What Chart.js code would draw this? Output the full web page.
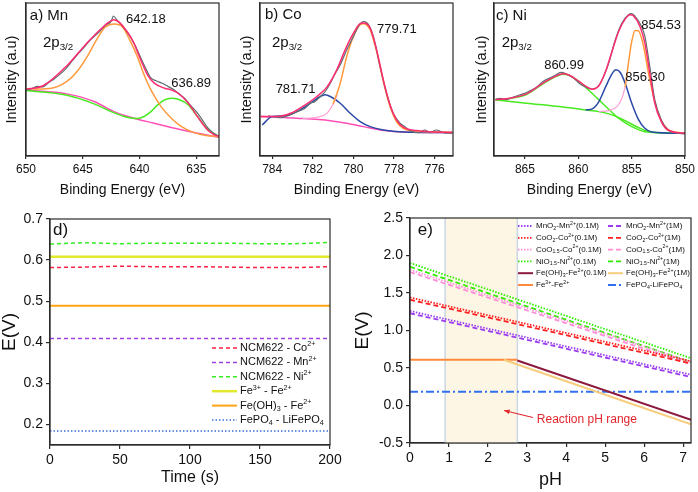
<!DOCTYPE html>
<html>
<head>
<meta charset="utf-8">
<script src="https://cdn.jsdelivr.net/npm/chart.js@4.4.1/dist/chart.umd.min.js"></script>
<style>
  body { margin: 0; background: #fff; }
  #fig { position: relative; width: 698px; height: 492px; overflow: hidden; }
  .box { position: absolute; }
</style>
</head>
<body>
<div id="fig">
  <div class="box" style="left:0;top:0;width:230px;height:200px"><canvas id="chartA"></canvas></div>
  <div class="box" style="left:230px;top:0;width:230px;height:200px"><canvas id="chartB"></canvas></div>
  <div class="box" style="left:460px;top:0;width:238px;height:200px"><canvas id="chartC"></canvas></div>
  <div class="box" style="left:0;top:200px;width:349px;height:292px"><canvas id="chartD"></canvas></div>
  <div class="box" style="left:349px;top:200px;width:349px;height:292px"><canvas id="chartE"></canvas></div>
</div>
<script>
const FONT = '"Liberation Sans", Arial, sans-serif';
const INK = '#2b2b2b';

// ---- a) Mn 2p3/2 ----
const mnTicks = [650, 645, 640, 635];
const mnRawE = [650, 649.5, 649, 648.5, 648, 647.5, 647, 646.5, 646, 645.5, 645, 644.5, 644, 643.5, 643, 642.5, 642.3, 642, 641.5, 641, 640.5, 640, 639.5, 639, 638.5, 638, 637.5, 637, 636.5, 636, 635.5, 635, 634.5, 634, 633.5, 633];
const mnRawI = [43.2, 44.0, 45.5, 45.2, 48.0, 50.5, 53.5, 57.0, 61.5, 66.0, 70.0, 74.5, 78.0, 81.5, 85.5, 88.0, 91.5, 89.0, 85.0, 80.0, 74.0, 66.0, 58.0, 51.0, 49.0, 47.5, 45.5, 43.5, 40.5, 37.5, 33.0, 29.0, 24.0, 18.5, 15.0, 13.0];
const mnFitE = [650, 648.5, 646.4, 644.9, 643.4, 642.25, 641.1, 640.5, 639.9, 639.3, 638.7, 637.8, 637.2, 636.6, 635.7, 634.9, 634, 633.4, 633];
const mnFitI = [43.7, 45.9, 59.0, 71.6, 83.0, 89.1, 81.4, 73.8, 62.9, 53.1, 47.6, 44.3, 43.2, 41.0, 34.5, 25.8, 17.0, 13.8, 12.9];
const mnPk1E = [650, 647.9, 646.4, 645.5, 644.6, 643.7, 643, 642.25, 641.5, 640.8, 640.2, 639.6, 639, 638.1, 637.2, 636.3, 635.2, 634, 633];
const mnPk1I = [43.7, 44.1, 48.7, 55.2, 65.1, 77.1, 84.3, 86.2, 84.3, 74.9, 65.1, 53.1, 43.2, 32.3, 24.7, 19.2, 15.3, 13.3, 12.7];
const mnPk2E = [650, 646.4, 644, 642.5, 641.1, 640.2, 639.6, 639, 638.4, 637.8, 637.2, 636.6, 635.7, 634.9, 634, 633];
const mnPk2I = [42.8, 39.7, 34.1, 29.0, 25.3, 24.5, 25.8, 29.0, 33.4, 36.7, 37.8, 37.1, 33.4, 25.8, 17.5, 12.7];
const mnBgE = [650, 646.4, 644, 642.25, 640.5, 638.7, 636.9, 635.2, 633];
const mnBgI = [43.2, 40.6, 35.6, 29.0, 24.7, 21.4, 18.1, 15.3, 12.2];

// ---- b) Co 2p3/2 ----
const coTicks = [784, 782, 780, 778, 776];
const coRawE = [784.2, 783.9, 783.6, 783.35, 783, 782.78, 782.4, 782.12, 781.9, 781.63, 781.4, 781.14, 780.9, 780.65, 780.33, 780, 779.76, 779.51, 779.35, 779.02, 778.69, 778.37, 778.04, 777.71, 777.47, 777.14, 776.73, 776.49, 776.24, 775.92, 775.59, 775.13];
const coRawI = [26.2, 25.6, 25.0, 25.8, 27.5, 29.0, 31.0, 34.5, 35.5, 38.9, 42.0, 47.6, 54.0, 59.6, 69.4, 78.2, 84.7, 87.8, 87.3, 78.2, 58.5, 41.0, 27.9, 21.4, 19.2, 15.9, 15.3, 17.0, 15.3, 17.0, 15.3, 14.8];
const coFitE = [784.57, 783.76, 783.1, 782.45, 781.8, 781.31, 780.82, 780.41, 780, 779.67, 779.51, 779.18, 778.86, 778.53, 778.2, 777.88, 777.55, 776.9, 776.24, 775.13];
const coFitI = [25.8, 25.8, 27.9, 32.8, 38.9, 45.0, 56.3, 69.4, 80.3, 86.5, 86.9, 83.6, 69.4, 49.8, 33.4, 23.6, 18.8, 16.6, 15.9, 15.3];
const coPk1E = [781.0, 780.65, 780.33, 780, 779.67, 779.51, 779.18, 778.86, 778.53, 778.2, 777.88, 777.55, 776.9, 775.13];
const coPk1I = [34.0, 47.6, 65.1, 78.2, 85.8, 86.5, 82.5, 68.3, 48.7, 32.3, 22.5, 18.1, 16.4, 15.5];
const coTailE = [782.5, 781.8, 781.31, 780.98, 780.8];
const coTailI = [24.5, 25.3, 27.9, 34.5, 40.0];
const coPk2E = [784.49, 784, 783.43, 782.78, 782.12, 781.63, 781.39, 781.14, 780.65, 780.16, 779.67, 779.18, 778.53, 777.55, 775.13];
const coPk2I = [20.3, 25.8, 26.2, 29.0, 34.5, 38.9, 40.0, 38.9, 34.5, 27.9, 22.5, 19.2, 17.0, 15.7, 15.3];
const coBgE = [784.57, 782.78, 781.14, 780.33, 779.51, 778.69, 777.88, 775.13];
const coBgI = [25.8, 24.7, 23.1, 21.4, 19.2, 17.0, 15.9, 15.3];

// ---- c) Ni 2p3/2 ----
const niTicks = [865, 860, 855, 850];
const niRawE = [867.77, 867.3, 867, 866.7, 866.39, 865.92, 865.46, 864.85, 864.38, 863.92, 863.31, 862.69, 862.07, 861.61, 861.15, 860.53, 859.92, 859.3, 858.69, 858.22, 857.76, 857.15, 856.53, 855.91, 855.3, 854.99, 854.68, 854.07, 853.76, 853.3, 852.83, 852.22, 851.6, 850.99, 850];
const niRawI = [37.1, 37.6, 37.1, 36.8, 37.8, 38.9, 40.0, 41.5, 43.2, 45.0, 48.7, 50.9, 53.1, 54.6, 53.7, 51.5, 47.6, 45.0, 43.7, 45.0, 49.8, 60.7, 76.0, 86.9, 92.4, 93.0, 91.3, 84.7, 78.2, 58.5, 36.7, 23.6, 17.0, 15.3, 14.4];
const niFitE = [867.77, 866.39, 864.85, 863.31, 862.07, 861.46, 860.84, 859.92, 859.15, 858.69, 858.07, 857.45, 856.84, 856.22, 855.61, 855.14, 854.84, 854.22, 853.76, 853.3, 852.83, 852.22, 851.6, 850];
const niFitI = [36.7, 37.8, 40.6, 47.6, 52.4, 53.7, 52.8, 48.7, 45.0, 43.7, 45.9, 55.2, 68.3, 81.4, 89.5, 92.4, 91.7, 84.7, 73.8, 54.1, 34.5, 22.5, 17.0, 14.8];
const niPk3E = [867.77, 866.39, 864.85, 863.31, 862.07, 861.46, 860.84, 859.92, 858.99, 858.07, 857.15, 856.22, 854.99, 853.76, 850];
const niPk3I = [36.7, 37.6, 40.2, 47.2, 52.0, 53.5, 52.6, 48.7, 42.8, 36.7, 30.6, 24.7, 19.2, 15.9, 14.8];
const niBgE = [867.77, 864.85, 861.77, 859.3, 858.07, 856.84, 855.61, 854.37, 853.14, 850];
const niBgI = [36.7, 34.5, 32.3, 30.1, 29.0, 26.9, 23.1, 18.6, 15.5, 14.8];
const niPk2E = [859.3, 858.69, 858.07, 857.45, 856.84, 856.47, 856.07, 855.61, 854.99, 854.37, 853.76, 853.14, 850];
const niPk2I = [30.1, 30.8, 35.6, 45.0, 53.7, 56.3, 54.6, 47.6, 34.5, 24.0, 18.1, 15.7, 14.8];
const niTailE = [858.07, 857.15, 856.38, 855.91, 855.61];
const niTailI = [29.0, 29.7, 32.3, 37.8, 45.0];
const niPk1E = [855.61, 855.3, 854.99, 854.68, 854.37, 853.91, 853.45, 852.83, 852.22, 851.6, 850.99, 850];
const niPk1I = [45.0, 60.7, 74.9, 82.1, 81.9, 72.7, 55.2, 35.6, 23.1, 17.5, 15.7, 14.8];

// ---- d) potential vs time ----
const dTime = [0, 25, 50, 75, 100, 125, 150, 175, 200];
const dCo = [0.582, 0.583, 0.585, 0.584, 0.584, 0.583, 0.582, 0.582, 0.584];
const dMn = [0.409, 0.409, 0.409, 0.409, 0.409, 0.409, 0.409, 0.409, 0.409];
const dNi = [0.639, 0.642, 0.640, 0.641, 0.641, 0.641, 0.640, 0.640, 0.643];
const dFe3 = [0.608, 0.608, 0.608, 0.608, 0.608, 0.608, 0.608, 0.608, 0.608];
const dFeOH = [0.489, 0.489, 0.489, 0.489, 0.489, 0.489, 0.489, 0.489, 0.489];
const dLfp = [0.184, 0.184, 0.184, 0.184, 0.184, 0.184, 0.184, 0.184, 0.184];
const dXTicks = [0, 50, 100, 150, 200];
const dYTicks = [0.2, 0.3, 0.4, 0.5, 0.6, 0.7];

// ---- e) E-pH diagram ----
const ePh = [0, 7.2];
const eMn01 = [1.26, 0.41], eMn1 = [1.23, 0.38];
const eCo201 = [1.44, 0.59], eCo21 = [1.41, 0.56];
const eCo1501 = [1.81, 0.58], eCo151 = [1.78, 0.55];
const eNi01 = [1.90, 0.63], eNi1 = [1.85, 0.58];
const eFeOH01Ph = [2.75, 7.2], eFeOH01 = [0.60, -0.19];
const eFeOH1Ph = [2.4, 7.2], eFeOH1 = [0.61, -0.25];
const eFe3Ph = [0, 2.75], eFe3 = [0.61, 0.61];
const eLfp = [0.185, 0.185];
const eXTicks = [0, 1, 2, 3, 4, 5, 6, 7];
const eYTicks = [-0.5, 0, 0.5, 1.0, 1.5, 2.0, 2.5];

// text with _{sub} and ^{sup}
function richParts(s) {
  const out = [], re = /([_^])\{([^}]*)\}/g;
  let last = 0, m;
  while ((m = re.exec(s))) {
    if (m.index > last) out.push({ t: s.slice(last, m.index), mode: 0 });
    out.push({ t: m[2], mode: m[1] === '^' ? 1 : -1 });
    last = re.lastIndex;
  }
  if (last < s.length) out.push({ t: s.slice(last), mode: 0 });
  return out;
}
function drawRich(ctx, s, x, y, size, color) {
  ctx.save();
  ctx.fillStyle = color;
  ctx.textBaseline = 'middle';
  ctx.textAlign = 'left';
  richParts(s).forEach(p => {
    ctx.font = (p.mode ? size * 0.65 : size) + 'px ' + FONT;
    const dy = p.mode === 1 ? -size * 0.33 : p.mode === -1 ? size * 0.3 : 0;
    ctx.fillText(p.t, x, y + dy);
    x += ctx.measureText(p.t).width;
  });
  ctx.restore();
}

const pts = (xs, ys) => xs.map((x, i) => ({ x, y: ys[i] }));
function line(label, xs, ys, color, width, dash) {
  return { label, data: pts(xs, ys), borderColor: color, backgroundColor: color, borderWidth: width,
    borderDash: dash || [], pointRadius: 0, fill: false, cubicInterpolationMode: 'monotone' };
}

function axis(min, max, ticks, o) {
  return {
    type: 'linear', min, max, reverse: !!o.reverse,
    afterBuildTicks: s => { s.ticks = ticks.map(v => ({ value: v })); },
    afterFit: s => { if (s.isHorizontal()) s.height = o.size; else s.width = o.size; },
    grid: { display: o.tick !== 0, drawOnChartArea: false, tickLength: o.tick || 4, color: INK, lineWidth: 1.2 },
    border: { display: true, color: INK, width: 1.2 },
    ticks: { display: !o.hide, color: '#111', padding: o.pad == null ? 3 : o.pad, maxRotation: 0, autoSkip: false,
      font: { family: FONT, size: o.fs || 13 }, callback: o.fmt || (v => v) },
    title: { display: true, text: o.title, color: '#111', padding: o.tpad || 0,
      font: { family: FONT, size: o.ts || 16, lineHeight: 1 } }
  };
}

const frame = {
  id: 'frame',
  afterDatasetsDraw(chart) {
    const a = chart.chartArea, ctx = chart.ctx;
    ctx.save();
    ctx.strokeStyle = INK;
    ctx.lineWidth = 1.2;
    ctx.strokeRect(a.left, a.top, a.right - a.left, a.bottom - a.top);
    ctx.restore();
  }
};

const shade = {
  id: 'shade',
  beforeDatasetsDraw(chart, args, o) {
    if (o.from == null) return;
    const a = chart.chartArea, ctx = chart.ctx, sx = chart.scales.x;
    const x0 = sx.getPixelForValue(o.from), x1 = sx.getPixelForValue(o.to);
    ctx.save();
    ctx.fillStyle = o.fill;
    ctx.fillRect(x0, a.top, x1 - x0, a.bottom - a.top);
    ctx.strokeStyle = o.edge;
    ctx.lineWidth = 1.5;
    ctx.beginPath();
    ctx.moveTo(x0, a.top); ctx.lineTo(x0, a.bottom);
    ctx.moveTo(x1, a.top); ctx.lineTo(x1, a.bottom);
    ctx.stroke();
    ctx.restore();
  }
};

const notes = {
  id: 'notes',
  afterDraw(chart, args, o) {
    const a = chart.chartArea, ctx = chart.ctx, sx = chart.scales.x, sy = chart.scales.y;
    (o.items || []).forEach(n => {
      const x = n.frac ? a.left + n.x * (a.right - a.left) : sx.getPixelForValue(n.x);
      const y = n.frac ? a.top + n.y * (a.bottom - a.top) : sy.getPixelForValue(n.y);
      drawRich(ctx, n.t, x, y, n.size || 13, n.color || '#111');
    });
    (o.arrows || []).forEach(r => {
      const x0 = sx.getPixelForValue(r.from[0]), y0 = sy.getPixelForValue(r.from[1]);
      const x1 = sx.getPixelForValue(r.to[0]), y1 = sy.getPixelForValue(r.to[1]);
      const ang = Math.atan2(y1 - y0, x1 - x0);
      ctx.save();
      ctx.strokeStyle = r.color; ctx.fillStyle = r.color; ctx.lineWidth = 1.2;
      ctx.beginPath(); ctx.moveTo(x0, y0); ctx.lineTo(x1, y1); ctx.stroke();
      ctx.beginPath();
      ctx.moveTo(x1, y1);
      ctx.lineTo(x1 - 6 * Math.cos(ang - 0.4), y1 - 6 * Math.sin(ang - 0.4));
      ctx.lineTo(x1 - 6 * Math.cos(ang + 0.4), y1 - 6 * Math.sin(ang + 0.4));
      ctx.closePath(); ctx.fill();
      ctx.restore();
    });
  }
};

const legendBox = {
  id: 'legendBox',
  afterDraw(chart, args, o) {
    if (!o.cols) return;
    const a = chart.chartArea, ctx = chart.ctx;
    chart.data.datasets.forEach((ds, i) => {
      const col = i % o.cols, row = Math.floor(i / o.cols);
      const x = a.left + o.x + col * (o.colW || 0), y = a.top + o.y + row * o.dy;
      ctx.save();
      ctx.strokeStyle = ds.borderColor;
      ctx.lineWidth = ds.borderWidth;
      ctx.setLineDash(ds.borderDash || []);
      ctx.beginPath(); ctx.moveTo(x, y); ctx.lineTo(x + o.len, y); ctx.stroke();
      ctx.restore();
      drawRich(ctx, ds.label, x + o.len + o.gap, y, o.size, '#111');
    });
  }
};

function makeChart(id, datasets, x, y, pad, extra) {
  return new Chart(document.getElementById(id), {
    type: 'line',
    data: { datasets },
    options: {
      responsive: true, maintainAspectRatio: false, animation: false,
      layout: { padding: pad },
      scales: { x, y },
      plugins: Object.assign({ legend: { display: false }, tooltip: { enabled: false } }, extra)
    },
    plugins: [shade, frame, notes, legendBox]
  });
}

const C = { raw: '#5d6d71', fit: '#ff2d6f', orange: '#ff9a3c', green: '#46ea1e', bg: '#ff4fb8', blue: '#2a4aa6', tail: '#ff9fd2' };
const xpsY = (w, pad) => axis(0, 100, [], { size: w, tick: 0, hide: true, title: 'Intensity (a.u)', ts: 14.5, tpad: pad });
const xpsX = (min, max, ticks) => axis(min, max, ticks, { reverse: true, size: 44, tick: 3, pad: 3, fs: 12, title: 'Binding Energy (eV)', ts: 14, tpad: 3 });

makeChart('chartA', [
  line('', mnFitE, mnFitI, C.fit, 1.5),
  line('', mnRawE, mnRawI, C.raw, 1.2),
  line('', mnPk1E, mnPk1I, C.orange, 1.5),
  line('', mnPk2E, mnPk2I, C.green, 1.5),
  line('', mnBgE, mnBgI, C.bg, 1.5)
], xpsX(633, 650, mnTicks), xpsY(26, 5),
{ top: 3, right: 11, left: 0, bottom: 0 },
{ notes: { items: [
  { t: 'a) Mn', x: 0.02, y: 0.085, frac: true, size: 15 },
  { t: '2p_{3/2}', x: 0.088, y: 0.26, frac: true, size: 15 },
  { t: '642.18', x: 641.2, y: 89.5, size: 13 },
  { t: '636.89', x: 637.2, y: 47.7, size: 13 }
] } });

makeChart('chartB', [
  line('', coFitE, coFitI, C.fit, 1.5),
  line('', coRawE, coRawI, C.raw, 1.2),
  line('', coPk1E, coPk1I, C.orange, 1.5),
  line('', coTailE, coTailI, C.tail, 1.2),
  line('', coPk2E, coPk2I, C.blue, 1.5),
  line('', coBgE, coBgI, C.bg, 1.5)
], xpsX(775.1, 784.6, coTicks), xpsY(30, 10),
{ top: 3, right: 7, left: 0, bottom: 0 },
{ notes: { items: [
  { t: 'b) Co', x: 0.026, y: 0.078, frac: true, size: 15 },
  { t: '2p_{3/2}', x: 0.062, y: 0.26, frac: true, size: 15 },
  { t: '779.71', x: 778.84, y: 83, size: 13 },
  { t: '781.71', x: 783.83, y: 43.8, size: 13 }
] } });

makeChart('chartC', [
  line('', niFitE, niFitI, C.fit, 1.5),
  line('', niRawE, niRawI, C.raw, 1.2),
  line('', niPk1E, niPk1I, C.orange, 1.5),
  line('', niTailE, niTailI, C.tail, 1.2),
  line('', niPk2E, niPk2I, C.blue, 1.5),
  line('', niPk3E, niPk3I, C.green, 1.5),
  line('', niBgE, niBgI, C.green, 1.5)
], xpsX(850, 867.9, niTicks), xpsY(34, 15),
{ top: 3, right: 11, left: 0, bottom: 0 },
{ notes: { items: [
  { t: 'c) Ni', x: 0.01, y: 0.085, frac: true, size: 15 },
  { t: '2p_{3/2}', x: 0.04, y: 0.26, frac: true, size: 15 },
  { t: '860.99', x: 863.2, y: 59.5, size: 13 },
  { t: '856.30', x: 855.6, y: 51.6, size: 13 },
  { t: '854.53', x: 854.1, y: 85.6, size: 13 }
] } });

makeChart('chartD', [
  line('NCM622 - Co^{2+}', dTime, dCo, '#ff2244', 1.5, [4, 3]),
  line('NCM622 - Mn^{2+}', dTime, dMn, '#a040e8', 1.5, [4, 3]),
  line('NCM622 - Ni^{2+}', dTime, dNi, '#33ee22', 1.5, [4, 3]),
  line('Fe^{3+} - Fe^{2+}', dTime, dFe3, '#e2e82a', 2.5),
  line('Fe(OH)_{3} - Fe^{2+}', dTime, dFeOH, '#ffa412', 2),
  line('FePO_{4} - LiFePO_{4}', dTime, dLfp, '#3d72d6', 1.5, [1.5, 2])
],
axis(0, 200, dXTicks, { size: 47, pad: 3, fs: 14, title: 'Time (s)', ts: 16, tpad: 6 }),
axis(0.15, 0.7, dYTicks, { size: 50, pad: 3, fs: 14, fmt: v => v.toFixed(1), title: 'E(V)', ts: 19, tpad: 0 }),
{ top: 19, right: 19, left: 0, bottom: 0 },
{ notes: { items: [{ t: 'd)', x: 0.011, y: 0.049, frac: true, size: 17 }] },
  legendBox: { cols: 1, x: 162, y: 129, dy: 14.4, len: 25, gap: 3, size: 11 } });

makeChart('chartE', [
  line('MnO_{2}-Mn^{2+}(0.1M)', ePh, eMn01, '#9b3cf0', 1.8, [1.5, 1.5]),
  line('MnO_{2}-Mn^{2+}(1M)', ePh, eMn1, '#9b3cf0', 1.8, [5, 3]),
  line('CoO_{2}-Co^{2+}(0.1M)', ePh, eCo201, '#ff2020', 1.8, [1.5, 1.5]),
  line('CoO_{2}-Co^{2+}(1M)', ePh, eCo21, '#ff2020', 1.8, [5, 3]),
  line('CoO_{1.5}-Co^{2+}(0.1M)', ePh, eCo1501, '#ff8ed8', 1.8, [1.5, 1.5]),
  line('CoO_{1.5}-Co^{2+}(1M)', ePh, eCo151, '#ff8ed8', 1.8, [5, 3]),
  line('NiO_{1.5}-Ni^{2+}(0.1M)', ePh, eNi01, '#2fee00', 1.8, [1.5, 1.5]),
  line('NiO_{1.5}-Ni^{2+}(1M)', ePh, eNi1, '#2fee00', 1.8, [5, 3]),
  line('Fe(OH)_{3}-Fe^{2+}(0.1M)', eFeOH01Ph, eFeOH01, '#8b1a3e', 2),
  line('Fe(OH)_{3}-Fe^{2+}(1M)', eFeOH1Ph, eFeOH1, '#f6cd7e', 2),
  line('Fe^{3+}-Fe^{2+}', eFe3Ph, eFe3, '#ff8a3d', 2),
  line('FePO_{4}-LiFePO_{4}', ePh, eLfp, '#3070f0', 2, [8, 3, 2, 3])
],
axis(0, 7.2, eXTicks, { size: 49, pad: 3, fs: 14, title: 'pH', ts: 18, tpad: 3 }),
axis(-0.5, 2.5, eYTicks, { size: 61, pad: 3, fs: 14, fmt: v => v.toFixed(1), title: 'E(V)', ts: 19, tpad: 4 }),
{ top: 18, right: 7, left: 0, bottom: 0 },
{ shade: { from: 0.9, to: 2.75, fill: '#fdf6e4', edge: '#cbd7e2' },
  notes: {
    items: [
      { t: 'e)', x: 0.028, y: 0.053, frac: true, size: 17 },
      { t: 'Reaction pH range', x: 3.25, y: -0.187, size: 12, color: '#e3262e' }
    ],
    arrows: [{ from: [3.15, -0.16], to: [2.41, -0.067], color: '#e3262e' }]
  },
  legendBox: { cols: 2, x: 108, y: 8, dy: 11.8, colW: 90, len: 15, gap: 3, size: 8 } });
</script>
</body>
</html>
